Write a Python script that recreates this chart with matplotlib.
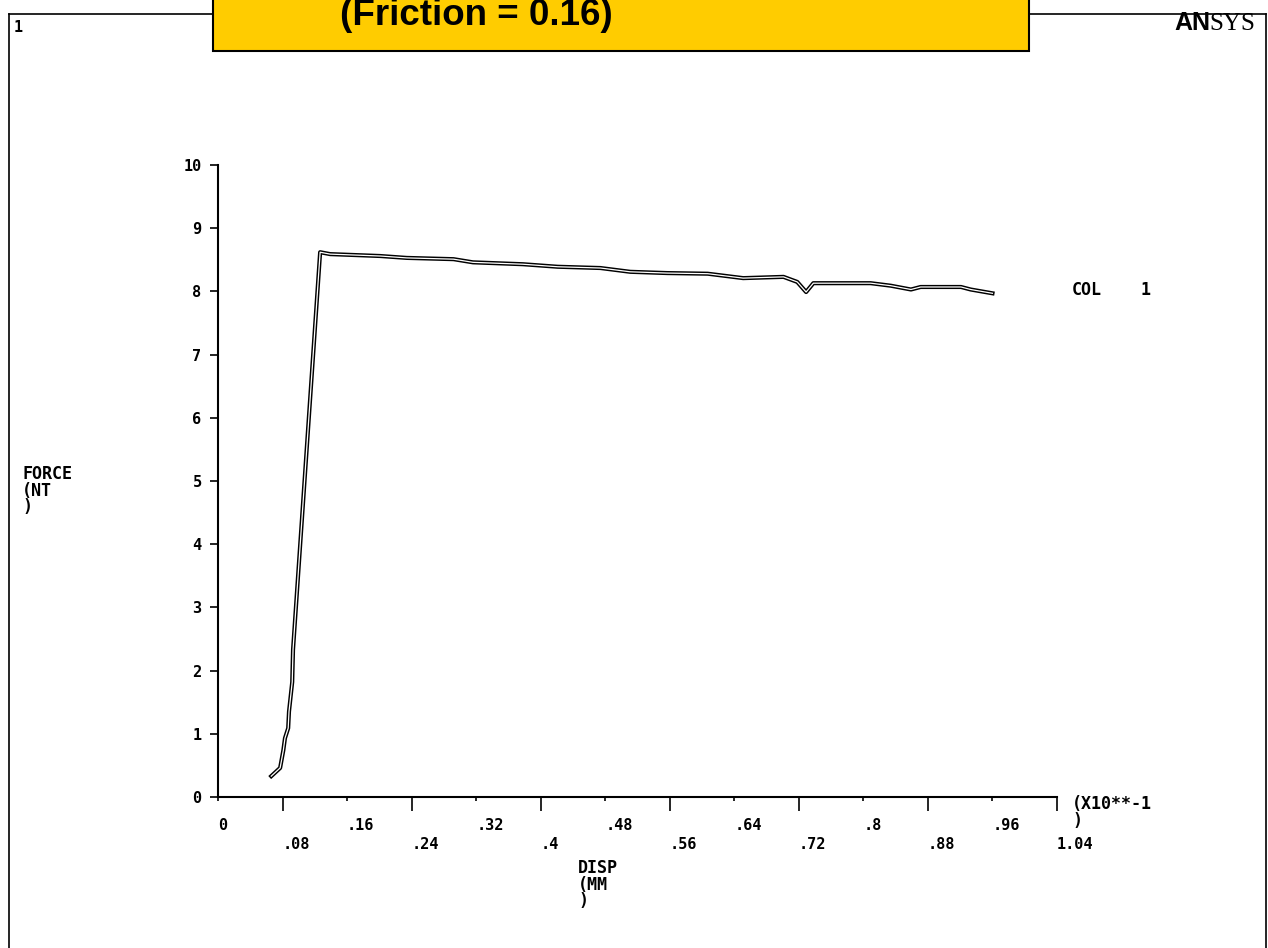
import matplotlib
matplotlib.use("Agg")
import matplotlib.pyplot as plt
from matplotlib.patches import Rectangle
from matplotlib.lines import Line2D

# force vs displacement curve
disp = [0.066, 0.077, 0.081, 0.083, 0.087, 0.088, 0.092, 0.093, 0.1266,
        0.139, 0.201, 0.234, 0.292, 0.316, 0.378, 0.421, 0.474, 0.511,
        0.557, 0.607, 0.651, 0.701, 0.718, 0.729, 0.738, 0.772, 0.809,
        0.834, 0.859, 0.871, 0.921, 0.933, 0.960]
force = [0.33, 0.46, 0.74, 0.93, 1.09, 1.35, 1.82, 2.33, 8.62,
         8.59, 8.56, 8.53, 8.51, 8.46, 8.43, 8.39, 8.37, 8.31,
         8.29, 8.28, 8.21, 8.23, 8.15, 7.99, 8.13, 8.13, 8.13,
         8.09, 8.03, 8.07, 8.07, 8.03, 7.97]

y_ticks = list(range(11))
y_labels = [str(v) for v in y_ticks]
x_upper = [0, 0.16, 0.32, 0.48, 0.64, 0.8, 0.96]
x_upper_labels = ["0", ".16", ".32", ".48", ".64", ".8", ".96"]
x_lower = [0.08, 0.24, 0.4, 0.56, 0.72, 0.88, 1.04]
x_lower_labels = [".08", ".24", ".4", ".56", ".72", ".88", "1.04"]

W, H = 1268, 948
MONO = "DejaVu Sans Mono"


def fx(x):
    return x / W


def fy(y):
    return 1 - y / H


fig = plt.figure(figsize=(W / 100, H / 100), dpi=100)

ax = fig.add_axes([fx(218), fy(797), (1057 - 218) / W, (797 - 165) / H])
ax.plot(disp, force, color="black", lw=3.0, clip_on=False)
ax.plot(disp, force, color="white", lw=0.9, clip_on=False)
ax.set_xlim(0, 1.04)
ax.set_ylim(0, 10)
for s in ["top", "right"]:
    ax.spines[s].set_visible(False)
for s in ["left", "bottom"]:
    ax.spines[s].set_linewidth(1.5)

ax.set_yticks(y_ticks, labels=y_labels)
ax.set_xticks(x_upper, labels=x_upper_labels)
ax.set_xticks(x_lower, labels=x_lower_labels, minor=True)
ax.tick_params(axis="y", direction="out", length=5.8, width=1.2, pad=6)
ax.tick_params(axis="x", which="major", direction="out", length=3, width=1.2, pad=12)
ax.tick_params(axis="x", which="minor", direction="out", length=10, width=1.2, pad=18.5)
for lbl in ax.get_yticklabels() + ax.get_xticklabels() + ax.get_xticklabels(minor=True):
    lbl.set_fontfamily(MONO)
    lbl.set_fontweight("bold")
    lbl.set_fontsize(11)
for lbl in ax.get_xticklabels() + ax.get_xticklabels(minor=True):
    lbl.set_horizontalalignment("left")

# outer frame
top = 14
fig.add_artist(Line2D([fx(9), fx(9)], [fy(top), 0], color="black", lw=1.2, transform=fig.transFigure))
fig.add_artist(Line2D([fx(1266), fx(1266)], [fy(top), 0], color="black", lw=1.2, transform=fig.transFigure))
fig.add_artist(Line2D([fx(9), fx(1266)], [fy(top), fy(top)], color="black", lw=1.2, transform=fig.transFigure))

# yellow title box
fig.add_artist(Rectangle((fx(213), fy(51)), (1029 - 213) / W, 70 / H, transform=fig.transFigure,
                         facecolor="#FFCC00", edgecolor="black", lw=1.5, zorder=5))
fig.text(fx(340), fy(25), "(Friction = 0.16)", fontfamily="Liberation Sans", fontweight="bold",
         fontsize=26.5, va="baseline", ha="left", zorder=6)

fig.text(fx(14), fy(28), "1", fontfamily=MONO, fontweight="bold", fontsize=11, va="center")
fig.text(fx(1210), fy(30), "AN", fontfamily="Liberation Sans", fontweight="bold", fontsize=18,
         va="baseline", ha="right")
fig.text(fx(1209), fy(30), "SYS", fontfamily="Liberation Serif", fontsize=18, va="baseline", ha="left")

txt = dict(fontfamily=MONO, fontweight="bold", fontsize=12, ha="left", va="top", linespacing=0.9)
fig.text(fx(1072), fy(281), "COL", **txt)
fig.text(fx(1140), fy(281), "1", **txt)
fig.text(fx(1072), fy(795), "(X10**-1\n)", **txt)
fig.text(fx(22), fy(465), "FORCE\n(NT\n)", **txt)
fig.text(fx(578), fy(859), "DISP\n(MM\n)", **txt)

fig.savefig("out.png", dpi=100)
